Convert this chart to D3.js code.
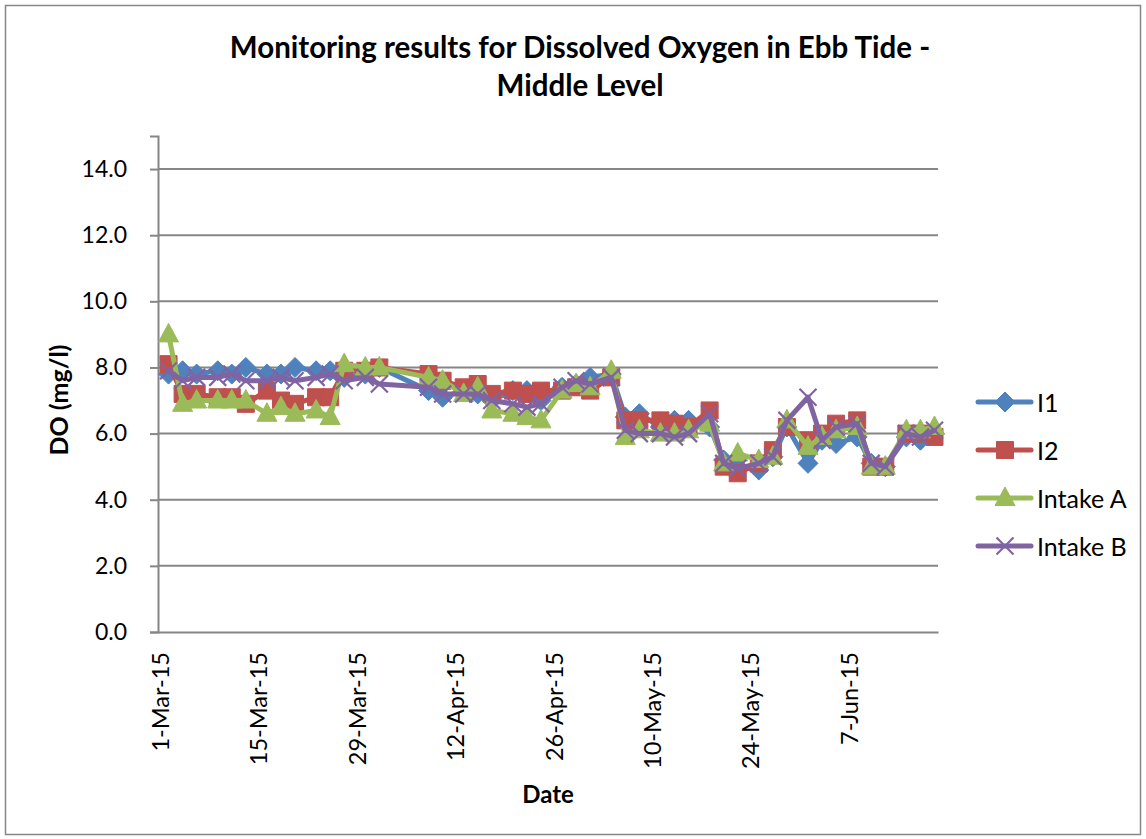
<!DOCTYPE html>
<meta charset="utf-8">
<style>
  body { margin: 0; background: #fff; }
  svg text { font-family: Lato, "Open Sans", "Liberation Sans", sans-serif; fill: #000; }
</style>
<body>
<script src="https://cdn.jsdelivr.net/npm/d3@7"></script>
<script>

// sampling dates (Mon/Wed/Fri, public holidays skipped)
var dates = ["2015-03-02","2015-03-04","2015-03-06","2015-03-09","2015-03-11","2015-03-13",
  "2015-03-16","2015-03-18","2015-03-20","2015-03-23","2015-03-25","2015-03-27","2015-03-30",
  "2015-04-01","2015-04-08","2015-04-10","2015-04-13","2015-04-15","2015-04-17","2015-04-20",
  "2015-04-22","2015-04-24","2015-04-27","2015-04-29","2015-05-01","2015-05-04","2015-05-06",
  "2015-05-08","2015-05-11","2015-05-13","2015-05-15","2015-05-18","2015-05-20","2015-05-22",
  "2015-05-25","2015-05-27","2015-05-29","2015-06-01","2015-06-03","2015-06-05","2015-06-08",
  "2015-06-10","2015-06-12","2015-06-15","2015-06-17","2015-06-19"];

var i1 = [7.8,7.9,7.8,7.9,7.8,8.0,7.8,7.8,8.0,7.9,7.9,7.7,7.8,8.0,7.3,7.1,7.3,7.2,7.0,7.3,
  7.3,7.0,7.4,7.5,7.7,7.8,6.5,6.6,6.2,6.4,6.4,6.2,5.2,5.0,4.9,5.3,6.2,5.1,5.8,5.7,5.9,
  5.1,5.0,5.9,5.8,6.0];
var i2 = [8.1,7.2,7.2,7.1,7.1,6.9,7.3,7.0,6.9,7.1,7.1,7.9,7.9,8.0,7.8,7.6,7.4,7.5,7.2,7.3,
  7.2,7.3,7.3,7.4,7.3,7.7,6.4,6.4,6.4,6.3,6.2,6.7,5.0,4.8,5.1,5.5,6.2,5.8,6.0,6.3,6.4,
  5.0,5.0,6.0,6.0,5.9];
var intakeA = [9.0,6.9,7.0,7.0,7.0,7.0,6.6,6.8,6.6,6.7,6.5,8.1,8.0,8.0,7.7,7.6,7.2,7.4,6.7,6.6,
  6.5,6.4,7.3,7.5,7.4,7.9,5.9,6.1,6.0,6.0,6.1,6.3,5.1,5.4,5.2,5.3,6.4,5.6,5.9,6.1,6.2,
  5.0,5.0,6.1,6.1,6.2];
var intakeB = [7.9,7.6,7.7,7.7,7.8,7.6,7.6,7.7,7.6,7.7,7.8,7.6,7.7,7.5,7.4,7.2,7.2,7.2,7.0,6.9,
  6.8,6.9,7.4,7.6,7.5,7.7,6.1,6.0,6.0,5.9,6.0,6.6,5.1,4.95,5.1,5.3,6.4,7.1,5.8,6.2,6.3,
  5.1,5.0,6.0,5.9,6.1];

var seriesNames = ["I1", "I2", "Intake A", "Intake B"];
var seriesColors = ["#4F81BD", "#C0504D", "#9BBB59", "#8064A2"];
var seriesShapes = ["diamond", "square", "triangle", "x"];

var xTicks = ["2015-03-01","2015-03-15","2015-03-29","2015-04-12","2015-04-26",
  "2015-05-10","2015-05-24","2015-06-07"];
var yTicks = [0, 2, 4, 6, 8, 10, 12, 14];

var width = 1146, height = 839;
var plotLeft = 158, plotRight = 938, plotTop = 136, plotBottom = 632;
var gray = "#868686";

var parse = d3.utcParse("%Y-%m-%d");
var fmtDate = d3.utcFormat("%-d-%b-%y");

// date axis with "between tick marks": each day is a slot, the date sits in its middle
var x = d3.scaleUtc()
    .domain([d3.utcHour.offset(parse("2015-03-01"), -12), d3.utcHour.offset(parse("2015-06-19"), 12)])
    .range([plotLeft, plotRight]);

var y = d3.scaleLinear()
    .domain([0, 15])
    .range([plotBottom, plotTop]);

var svg = d3.select("body").append("svg")
    .attr("width", width)
    .attr("height", height);

svg.append("rect")
    .attr("x", 5.5).attr("y", 5.5)
    .attr("width", 1135).attr("height", 829)
    .attr("fill", "#fff")
    .attr("stroke", gray)
    .attr("stroke-width", 1.5);

// title
var title = svg.append("text")
    .attr("text-anchor", "middle")
    .style("font-size", "29.5px")
    .style("font-weight", "bold");
title.append("tspan").attr("x", 580).attr("y", 58).text("Monitoring results for Dissolved Oxygen in Ebb Tide -");
title.append("tspan").attr("x", 580).attr("y", 96).text("Middle Level");

// gridlines
svg.append("g")
  .selectAll("line")
  .data(yTicks.filter(function(d) { return d > 0; }))
  .enter().append("line")
    .attr("x1", plotLeft).attr("x2", plotRight)
    .attr("y1", function(d) { return y(d); })
    .attr("y2", function(d) { return y(d); })
    .attr("stroke", gray)
    .attr("stroke-width", 2);

// y axis
var yAxis = svg.append("g")
    .attr("transform", "translate(" + plotLeft + ",0)")
    .call(d3.axisLeft(y).tickValues(yTicks).tickFormat(d3.format(".1f")).tickSize(8).tickPadding(23));
yAxis.select(".domain").attr("stroke", gray).attr("stroke-width", 2);
yAxis.selectAll(".tick line").attr("stroke", gray).attr("stroke-width", 2);
yAxis.selectAll(".tick text")
    .style("font-size", "23px")
    .style("font-family", "Lato, sans-serif");

// x axis
var xAxis = svg.append("g")
    .attr("transform", "translate(0," + plotBottom + ")")
    .call(d3.axisBottom(x).tickValues(xTicks.map(parse)).tickFormat(fmtDate).tickSize(0).tickPadding(0));
xAxis.select(".domain").attr("stroke", gray).attr("stroke-width", 2);
xAxis.selectAll(".tick text")
    .style("font-size", "23.5px")
    .style("font-family", "Lato, sans-serif")
    .attr("text-anchor", "end")
    .attr("dy", null)
    .attr("y", 0)
    .attr("transform", "translate(-2,20) rotate(-90)")
    .attr("dominant-baseline", "central");

// axis titles
svg.append("text")
    .attr("x", 548).attr("y", 803)
    .attr("text-anchor", "middle")
    .style("font-size", "24px").style("font-weight", "bold")
    .text("Date");

svg.append("text")
    .attr("transform", "translate(58,400) rotate(-90)")
    .attr("text-anchor", "middle")
    .attr("dominant-baseline", "central")
    .style("font-size", "25px").style("font-weight", "bold")
    .text("DO (mg/l)");

function markerPath(shape) {
  if (shape === "diamond") return "M0,-10L10,0L0,10L-10,0Z";
  if (shape === "square") return "M-8.5,-8.5H8.5V8.5H-8.5Z";
  if (shape === "triangle") return "M0,-11L10,7.5H-10Z";
  return "M-8.5,-8.5L8.5,8.5M-8.5,8.5L8.5,-8.5";
}

function drawMarker(g, shape, color) {
  var p = g.append("path").attr("d", markerPath(shape));
  if (shape === "x") {
    p.attr("fill", "none").attr("stroke", color).attr("stroke-width", 2.2);
  } else {
    p.attr("fill", color).attr("stroke", color).attr("stroke-width", 1);
  }
}

var line = d3.line()
    .x(function(d) { return x(d.date); })
    .y(function(d) { return y(d.value); });

var allValues = [i1, i2, intakeA, intakeB];

allValues.forEach(function(vals, k) {
  var pts = vals.map(function(v, i) { return { date: parse(dates[i]), value: v }; });
  var g = svg.append("g");
  g.append("path")
      .datum(pts)
      .attr("d", line)
      .attr("fill", "none")
      .attr("stroke", seriesColors[k])
      .attr("stroke-width", 5)
      .attr("stroke-linejoin", "round")
      .attr("stroke-linecap", "round");
  pts.forEach(function(d) {
    var m = g.append("g").attr("transform", "translate(" + x(d.date) + "," + y(d.value) + ")");
    drawMarker(m, seriesShapes[k], seriesColors[k]);
  });
});

// legend
var legend = svg.append("g");
seriesNames.forEach(function(name, k) {
  var ly = 402 + k * 48;
  legend.append("line")
      .attr("x1", 978).attr("x2", 1031)
      .attr("y1", ly).attr("y2", ly)
      .attr("stroke", seriesColors[k])
      .attr("stroke-width", 5)
      .attr("stroke-linecap", "round");
  var m = legend.append("g").attr("transform", "translate(1005," + ly + ")");
  drawMarker(m, seriesShapes[k], seriesColors[k]);
  legend.append("text")
      .attr("x", 1037).attr("y", ly)
      .attr("dominant-baseline", "central")
      .style("font-size", "25px")
      .text(name);
});

</script>
</body>
